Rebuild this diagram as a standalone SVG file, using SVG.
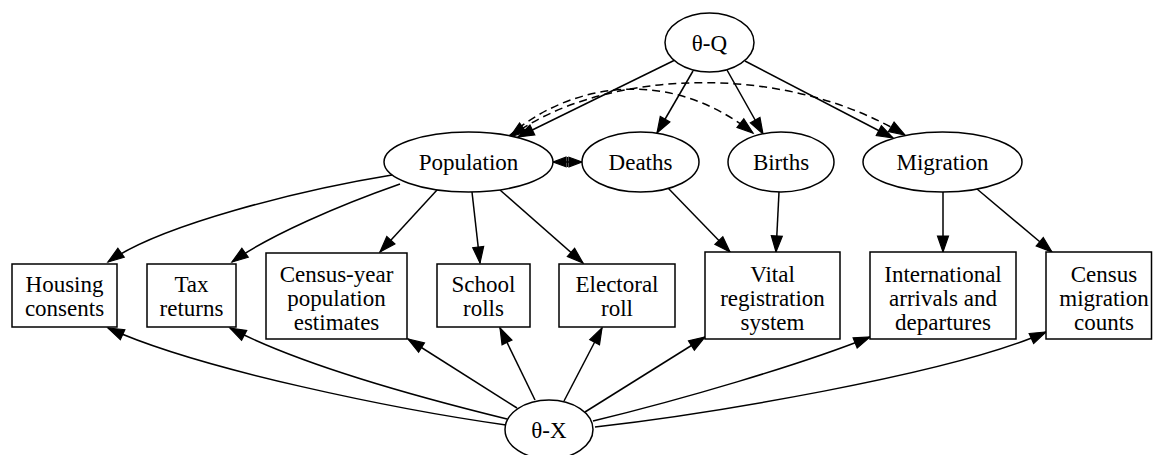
<svg xmlns="http://www.w3.org/2000/svg" width="1153" height="455" viewBox="0 0 1153 455">
<style>
.n{fill:#fff;stroke:#000;stroke-width:1.5}
.t{font-family:"Liberation Serif","Times New Roman",serif;font-size:23px;fill:#000;text-anchor:middle}
.e{fill:none;stroke:#000;stroke-width:1.5;marker-end:url(#arr)}
.d{stroke-dasharray:8,5}
</style>
<defs>
<marker id="arr" markerUnits="userSpaceOnUse" markerWidth="18" markerHeight="13" refX="16" refY="5.5" orient="auto-start-reverse" overflow="visible">
<path d="M0,0 L16,5.5 L0,11 z" fill="#000" stroke="#000" stroke-width="1.2"/>
</marker>
<marker id="arrS" markerUnits="userSpaceOnUse" markerWidth="15" markerHeight="11" refX="13" refY="4.8" orient="auto-start-reverse" overflow="visible">
<path d="M0,0 L13,4.8 L0,9.6 z" fill="#000" stroke="#000" stroke-width="1.2"/>
</marker>
</defs>
<rect width="1153" height="455" fill="#fff"/>
<g id="edges">
<path class="e" d="M675,60 L518,137"/>
<path class="e" d="M693,71 L657,133"/>
<path class="e" d="M727,70 L763,134"/>
<path class="e" d="M745,61 L893,138"/>
<path class="e d" d="M508,137 C560,90 660,60 753,133"/>
<path class="e d" style="marker-start:url(#arr)" d="M510,137 C600,70 780,60 905,135"/>
<path fill="none" stroke="#000" stroke-width="1.5" style="marker-start:url(#arrS);marker-end:url(#arrS)" d="M553,162 L582,162"/>
<path fill="none" stroke="#000" stroke-width="1.5" d="M567.5,157 L567.5,167"/>
<path class="e" d="M392,175 C300,190 160,225 108,262"/>
<path class="e" d="M400,184 C340,205 270,235 232,262"/>
<path class="e" d="M437,190 L380,252"/>
<path class="e" d="M472,192 L480,263"/>
<path class="e" d="M500,190 L583,263"/>
<path class="e" d="M668,188 L730,252"/>
<path class="e" d="M779,192 L776,252"/>
<path class="e" d="M943,192 L943,252"/>
<path class="e" d="M977,189 L1052,252"/>
<path class="e" d="M506,425 C400,410 200,370 108,328"/>
<path class="e" d="M507,419 C450,405 310,370 230,328"/>
<path class="e" d="M517,408 L408,339"/>
<path class="e" d="M535,400 L500,328"/>
<path class="e" d="M564,401 L602,328"/>
<path class="e" d="M585,412 L705,337"/>
<path class="e" d="M593,421 C680,400 800,365 870,337"/>
<path class="e" d="M595,427 C700,415 950,375 1046,332"/>
</g>
<g id="thetaQ"><ellipse class="n" cx="709.5" cy="42.5" rx="44.5" ry="29.5"/><text class="t" x="709.5" y="50.5">θ-Q</text></g>
<g id="population"><ellipse class="n" cx="468.5" cy="162" rx="84.5" ry="30"/><text class="t" x="468.5" y="170">Population</text></g>
<g id="deaths"><ellipse class="n" cx="640.5" cy="162" rx="58.5" ry="30"/><text class="t" x="640.5" y="170">Deaths</text></g>
<g id="births"><ellipse class="n" cx="781" cy="162" rx="53" ry="30"/><text class="t" x="781" y="170">Births</text></g>
<g id="migration"><ellipse class="n" cx="942.5" cy="162" rx="79.5" ry="30"/><text class="t" x="942.5" y="170">Migration</text></g>
<g id="housing"><rect class="n" x="12" y="264" width="105" height="63"/><text class="t" x="64.5" y="291.5">Housing</text><text class="t" x="64.5" y="315.5">consents</text></g>
<g id="tax"><rect class="n" x="147" y="264" width="89" height="63"/><text class="t" x="191.5" y="291.5">Tax</text><text class="t" x="191.5" y="315.5">returns</text></g>
<g id="census-year"><rect class="n" x="266" y="253" width="141" height="86"/><text class="t" x="336.5" y="281.5">Census-year</text><text class="t" x="336.5" y="305.5">population</text><text class="t" x="336.5" y="329.5">estimates</text></g>
<g id="school"><rect class="n" x="437" y="264" width="93" height="63"/><text class="t" x="483.5" y="291.5">School</text><text class="t" x="483.5" y="315.5">rolls</text></g>
<g id="electoral"><rect class="n" x="559" y="264" width="116" height="63"/><text class="t" x="617" y="291.5">Electoral</text><text class="t" x="617" y="315.5">roll</text></g>
<g id="vital"><rect class="n" x="705" y="252" width="135" height="87"/><text class="t" x="772.5" y="281.5">Vital</text><text class="t" x="772.5" y="305.5">registration</text><text class="t" x="772.5" y="329.5">system</text></g>
<g id="international"><rect class="n" x="870" y="252" width="146" height="87"/><text class="t" x="943" y="281.5">International</text><text class="t" x="943" y="305.5">arrivals and</text><text class="t" x="943" y="329.5">departures</text></g>
<g id="census-migration"><rect class="n" x="1046" y="252" width="105.5" height="87"/><text class="t" x="1104" y="281.5">Census</text><text class="t" x="1104" y="305.5">migration</text><text class="t" x="1104" y="329.5">counts</text></g>
<g id="thetaX"><ellipse class="n" cx="549" cy="429.5" rx="44" ry="29.5"/><text class="t" x="549" y="437.5">θ-X</text></g>
</svg>
